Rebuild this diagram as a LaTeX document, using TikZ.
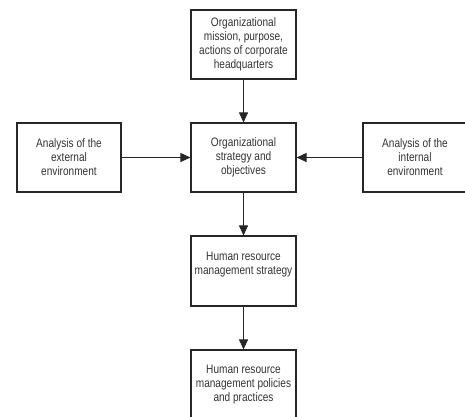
\documentclass[tikz,border=0pt]{standalone}
\usepackage{fontspec}
\setmainfont[FakeStretch=0.82]{Liberation Sans}
\usetikzlibrary{arrows.meta}
\begin{document}
\begin{tikzpicture}[x=1pt,y=-1pt,
  box/.style={draw=black!85, line width=1.1pt, minimum width=105pt, minimum height=69pt,
    align=center, inner sep=2pt, font=\fontsize{12.3}{14}\selectfont, text=black!80},
  conn/.style={line width=0.9pt, draw=black!85, -{Triangle[length=10pt,width=9pt]}}]
\useasboundingbox (0,0) rectangle (465,416);
\clip (0,0) rectangle (465,416);
\node[box] (mission) at (243.5,44.5) {Organizational\\mission, purpose,\\actions of corporate\\headquarters};
\node[box] (strat) at (243.5,157.5) {Organizational\\strategy and\\objectives};
\node[box, minimum width=104pt] (ext) at (69,157.5) {Analysis of the\\external\\environment};
\node[box, minimum width=104pt] (int) at (415,157.5) {Analysis of the\\internal\\environment};
\node[box, minimum height=70pt, text depth=16pt] (hrs) at (243.5,271) {Human resource\\management strategy};
\node[box, minimum height=70pt] (hrp) at (243.5,385) {Human resource\\management policies\\and practices};
\draw[conn] (mission) -- (strat);
\draw[conn] (ext) -- (strat);
\draw[conn] (int) -- (strat);
\draw[conn] (strat) -- (hrs);
\draw[conn] (hrs) -- (hrp);
\end{tikzpicture}
\end{document}
